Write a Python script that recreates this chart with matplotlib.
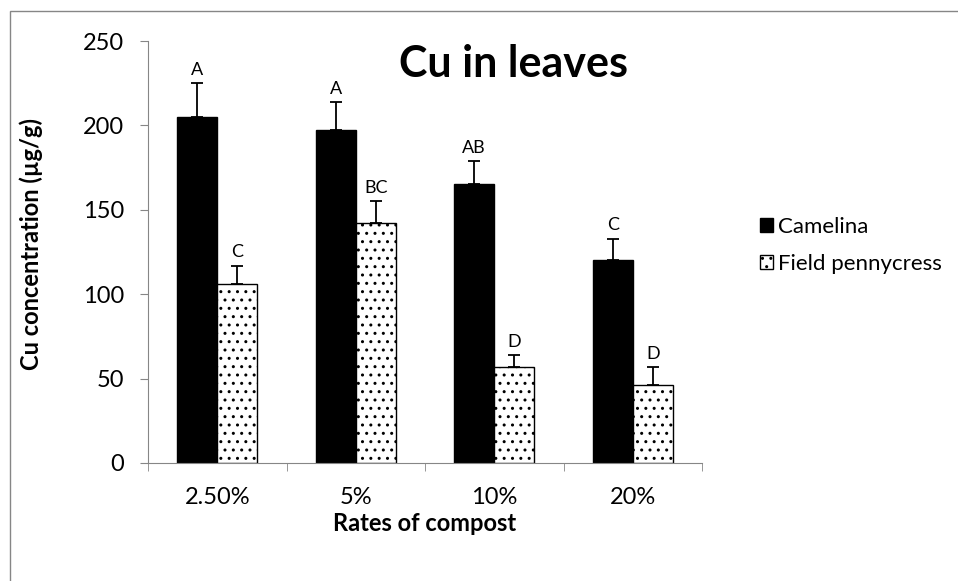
import numpy as np
import matplotlib.pyplot as plt
from matplotlib.patches import Rectangle

# Dados
rates = ['2.50%', '5%', '10%', '20%']
camelina = [205, 197, 165, 120]
camelina_err = [20, 17, 14, 13]
pennycress = [106, 142, 57, 46]
pennycress_err = [11, 13, 7, 11]
letras_camelina = ['A', 'A', 'AB', 'C']
letras_pennycress = ['C', 'BC', 'D', 'D']

plt.rcParams['font.family'] = ['Lato', 'DejaVu Sans']
plt.rcParams['hatch.linewidth'] = 1.0

fig = plt.figure(figsize=(9.58, 5.81), dpi=100)
ax = fig.add_axes([0.1545, 0.2031, 0.5783, 0.7263])

x = np.arange(len(rates))
w = 0.29
cinza = '#868686'

ax.bar(x - w / 2, camelina, w, color='black', edgecolor='black', label='Camelina')
ax.bar(x + w / 2, pennycress, w, color='white', edgecolor='black', hatch='..',
       linewidth=1, label='Field pennycress')
ax.errorbar(x - w / 2, camelina, yerr=[np.zeros(4), camelina_err], fmt='none',
            ecolor='black', elinewidth=1.3, capsize=4.5, capthick=1.3)
ax.errorbar(x + w / 2, pennycress, yerr=[np.zeros(4), pennycress_err], fmt='none',
            ecolor='black', elinewidth=1.3, capsize=4.5, capthick=1.3)

for i in range(4):
    ax.text(x[i] - w / 2, camelina[i] + camelina_err[i] + 3, letras_camelina[i],
            ha='center', va='bottom', fontsize=13)
    ax.text(x[i] + w / 2, pennycress[i] + pennycress_err[i] + 3, letras_pennycress[i],
            ha='center', va='bottom', fontsize=13)

ax.set_xlim(-0.5, 3.5)
ax.set_ylim(0, 250)
ax.set_yticks([0, 50, 100, 150, 200, 250])
ax.set_xticks(x)
ax.set_xticklabels(rates)
ax.set_xticks(np.arange(-0.5, 4, 1), minor=True)
ax.tick_params(axis='x', which='major', length=0, pad=17, labelsize=17)
ax.tick_params(axis='x', which='minor', length=6, color=cinza, direction='out')
ax.tick_params(axis='y', length=6, color=cinza, direction='out', labelsize=17, pad=11)

for s in ['top', 'right']:
    ax.spines[s].set_visible(False)
for s in ['left', 'bottom']:
    ax.spines[s].set_color(cinza)

ax.set_xlabel('Rates of compost', fontsize=17, fontweight='bold', va='top')
ax.xaxis.set_label_coords(0.5, -0.115)
ax.set_ylabel('Cu concentration (µg/g)', fontsize=17, fontweight='bold')
ax.yaxis.set_label_coords(-0.19, 0.52)
fig.text(0.5365, 1 - 77 / 581, 'Cu in leaves', ha='center', va='baseline',
         fontsize=31, fontweight='bold')

fig.legend(loc='center left', bbox_to_anchor=(0.772, 0.578), frameon=False,
           fontsize=16, handlelength=0.6, handleheight=0.6, handletextpad=0.25,
           labelspacing=0.75)

fig.patches.append(Rectangle((10 / 958, -0.1), 1.2, 1.1 - 11 / 581,
                             transform=fig.transFigure, fill=False,
                             edgecolor=cinza, linewidth=1))

fig.savefig('out.png', dpi=100)
